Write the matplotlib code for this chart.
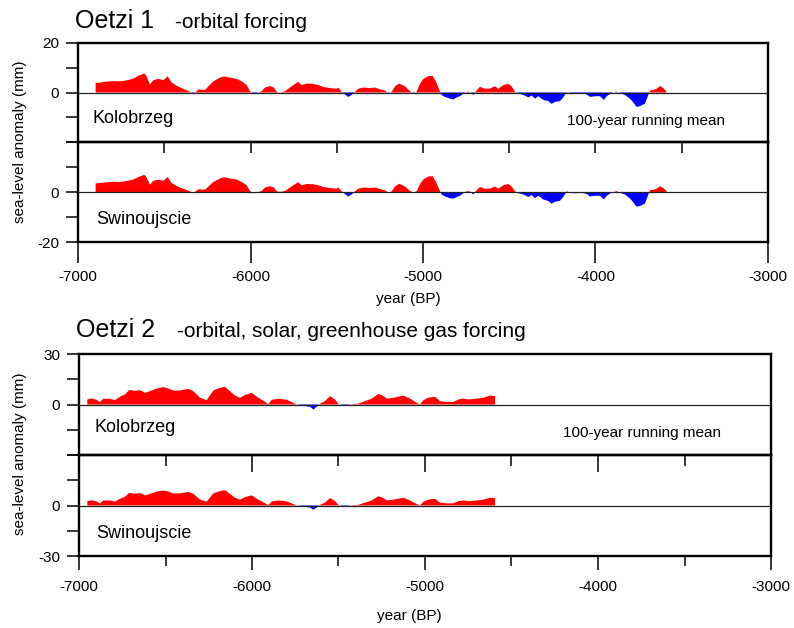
import numpy as np
import matplotlib
matplotlib.use("Agg")
import matplotlib.pyplot as plt

plt.rcParams['font.family'] = 'Liberation Sans'
plt.rcParams['axes.unicode_minus'] = False

# Oetzi 1 run (orbital forcing), 100-year running mean, mm
years_1 = [-6898, -6872, -6834, -6795, -6756, -6718, -6679, -6650, -6615, -6602,
           -6583, -6563, -6534, -6505, -6480, -6457, -6428, -6390, -6351, -6335,
           -6322, -6302, -6264, -6244, -6216, -6177, -6154, -6119, -6080, -6051,
           -6022, -6003, -5984, -5964, -5935, -5916, -5887, -5864, -5848, -5829,
           -5800, -5771, -5752, -5723, -5704, -5675, -5636, -5607, -5578, -5539,
           -5501, -5491, -5472, -5453, -5433, -5414, -5395, -5375, -5346, -5308,
           -5278, -5250, -5221, -5201, -5182, -5162, -5138, -5104, -5075, -5056,
           -5037, -5017, -4998, -4969, -4944, -4925, -4905, -4892, -4872, -4843,
           -4824, -4805, -4786, -4766, -4747, -4728, -4708, -4693, -4670, -4641,
           -4612, -4583, -4563, -4534, -4505, -4486, -4467, -4447, -4418, -4389,
           -4370, -4351, -4332, -4302, -4273, -4254, -4235, -4206, -4187, -4167,
           -4148, -4119, -4080, -4051, -4032, -4003, -3974, -3951, -3935, -3907,
           -3877, -3858, -3829, -3800, -3781, -3762, -3742, -3713, -3694, -3684,
           -3665, -3646, -3626, -3607, -3588]
kolobrzeg_1 = [3.9, 4.0, 4.4, 4.6, 4.5, 4.9, 5.6, 6.8, 7.7, 6.5,
               3.2, 5.0, 5.5, 5.0, 6.6, 4.0, 2.7, 1.5, 0.3, -0.5,
               0.0, 1.2, 1.0, 2.5, 4.5, 6.0, 6.5, 6.0, 5.5, 4.5,
               3.0, 0.5, -0.5, -0.2, 0.5, 2.0, 2.6, 2.0, 0.3, 0.0,
               0.5, 2.0, 3.0, 4.3, 3.0, 3.6, 3.5, 3.0, 2.2, 1.8,
               1.5, 2.0, 0.3, -0.8, -1.8, -1.0, 0.2, 1.5, 2.0, 1.8,
               2.0, 1.3, 0.8, -0.3, 0.2, 2.5, 3.6, 2.5, 0.5, -0.3,
               0.3, 3.5, 5.5, 6.6, 6.7, 4.5, 1.0, -1.0, -1.8, -2.5,
               -2.8, -2.0, -1.5, -0.5, 0.3, 0.2, -1.0, 0.5, 2.3, 1.5,
               1.6, 2.5, 1.5, 3.0, 3.5, 2.5, 0.3, -0.5, -1.0, -2.0,
               -1.2, -2.5, -1.5, -3.0, -3.5, -4.6, -3.8, -3.5, -2.0, 0.3,
               -0.2, -0.5, -0.3, -0.8, -1.8, -1.5, -1.5, -3.0, -1.5, -0.2,
               0.3, -0.3, -1.0, -2.5, -4.0, -5.8, -5.5, -4.5, -1.0, 0.8,
               1.0, 1.5, 2.6, 1.8, 0.3]
swinoujscie_1 = [3.4, 3.6, 3.9, 4.1, 4.0, 4.4, 5.0, 6.0, 6.9, 5.8,
                 2.9, 4.5, 4.9, 4.5, 6.0, 3.6, 2.4, 1.3, 0.3, -0.5,
                 0.0, 1.1, 0.9, 2.2, 4.0, 5.4, 5.9, 5.4, 5.0, 4.0,
                 2.7, 0.4, -0.5, -0.2, 0.4, 1.8, 2.3, 1.8, 0.3, 0.0,
                 0.4, 1.8, 2.7, 3.9, 2.7, 3.2, 3.1, 2.7, 2.0, 1.6,
                 1.3, 1.8, 0.3, -0.8, -1.8, -1.0, 0.2, 1.3, 1.8, 1.6,
                 1.8, 1.2, 0.7, -0.3, 0.2, 2.2, 3.3, 2.2, 0.4, -0.3,
                 0.3, 3.2, 5.0, 6.2, 6.3, 4.1, 0.9, -1.0, -1.8, -2.5,
                 -2.7, -2.0, -1.5, -0.5, 0.3, 0.2, -1.0, 0.4, 2.0, 1.3,
                 1.4, 2.2, 1.3, 2.7, 3.2, 2.2, 0.3, -0.5, -1.0, -2.0,
                 -1.2, -2.5, -1.5, -3.0, -3.6, -4.7, -3.9, -3.5, -2.0, 0.3,
                 -0.2, -0.5, -0.3, -0.8, -1.8, -1.5, -1.5, -3.0, -1.5, -0.2,
                 0.3, -0.3, -1.0, -2.6, -4.1, -5.9, -5.6, -4.6, -1.0, 0.7,
                 0.9, 1.3, 2.3, 1.6, 0.3]

# Oetzi 2 run (orbital, solar, greenhouse gas forcing)
years_2 = [-6952, -6927, -6898, -6879, -6860, -6821, -6792, -6763, -6734, -6709,
           -6676, -6647, -6618, -6590, -6551, -6513, -6484, -6455, -6416, -6368,
           -6339, -6300, -6262, -6223, -6185, -6156, -6127, -6098, -6069, -6040,
           -6001, -5972, -5934, -5905, -5886, -5847, -5799, -5770, -5741, -5703,
           -5664, -5645, -5626, -5606, -5578, -5549, -5520, -5500, -5481, -5452,
           -5423, -5385, -5346, -5308, -5269, -5240, -5221, -5183, -5125, -5087,
           -5048, -5029, -5010, -4981, -4942, -4913, -4875, -4836, -4807, -4778,
           -4749, -4701, -4663, -4624, -4595]
kolobrzeg_2 = [3.0, 3.6, 2.8, 1.4, 3.4, 3.4, 2.6, 4.6, 6.0, 8.7,
               8.1, 8.5, 6.9, 7.9, 9.5, 10.3, 9.5, 8.3, 8.3, 9.3,
               7.9, 4.0, 2.6, 8.3, 9.9, 10.5, 7.9, 5.3, 4.0, 5.7,
               6.9, 4.6, 2.2, 0.2, 2.8, 3.4, 2.8, 1.4, 0.0, -0.8,
               -1.4, -3.0, -1.4, 0.5, 2.0, 5.0, 3.0, 0.3, -0.5, -0.6,
               0.2, 0.5, 2.0, 3.5, 6.3, 5.0, 3.5, 4.0, 5.3, 3.5,
               1.0, 0.0, 2.5, 4.0, 4.6, 2.0, 1.5, 1.5, 3.0, 3.5,
               3.0, 3.5, 4.0, 5.3, 5.0]
swinoujscie_2 = [2.6, 3.1, 2.4, 1.2, 3.0, 3.0, 2.3, 4.0, 5.2, 7.5,
                 7.0, 7.4, 6.0, 6.9, 8.3, 8.9, 8.3, 7.2, 7.2, 8.1,
                 6.9, 3.5, 2.3, 7.2, 8.6, 9.1, 6.9, 4.6, 3.5, 5.0,
                 6.0, 4.0, 1.9, 0.2, 2.4, 3.0, 2.4, 1.2, 0.0, -0.7,
                 -1.2, -2.6, -1.2, 0.4, 1.7, 4.4, 2.6, 0.3, -0.4, -0.5,
                 0.2, 0.4, 1.7, 3.0, 5.5, 4.4, 3.0, 3.5, 4.6, 3.0,
                 0.9, 0.0, 2.2, 3.5, 4.0, 1.7, 1.3, 1.3, 2.6, 3.0,
                 2.6, 3.0, 3.5, 4.6, 4.4]

W, H = 794, 628
fig = plt.figure(figsize=(W / 100, H / 100), dpi=100)


def fx(x):
    return x / W


def fy(y):
    return 1 - y / H


def add_panel(left, top, right, bottom):
    return fig.add_axes([fx(left), fy(bottom), (right - left) / W, (bottom - top) / H])


def fill_series(ax, years, vals):
    x = np.array(years, dtype=float)
    y = np.array(vals, dtype=float)
    ax.fill_between(x, y, 0, where=y >= 0, interpolate=True, color='#ff0000', lw=0)
    ax.fill_between(x, y, 0, where=y <= 0, interpolate=True, color='#0000ff', lw=0)
    ax.axhline(0, color='#222222', lw=0.9, zorder=3)


def block(left, top, mid, bottom, right, years, kolo, swin, ymax, sep_ticks, bot_ticks):
    ax1 = add_panel(left, top, right, mid)
    ax2 = add_panel(left, mid, right, bottom)
    for ax in (ax1, ax2):
        ax.set_xlim(-7000, -3000)
        ax.set_ylim(-ymax, ymax)
        ax.set_yticks([-ymax, -ymax / 2, 0, ymax / 2, ymax])
        for s in ax.spines.values():
            s.set_linewidth(1.7)
        ax.tick_params(axis='y', which='both', left=True, right=False, direction='out',
                       length=8.6, width=1.1, labelsize=11, pad=5)
    ax1.set_yticklabels(['', '', '0', '', str(ymax)])
    ax2.set_yticklabels([str(-ymax), '', '0', '', ''])

    fill_series(ax1, years, kolo)
    fill_series(ax2, years, swin)

    # ticks on the shared edge, pointing down into the lower panel
    ax1.set_zorder(3)
    ax1.patch.set_visible(False)
    ax1.set_xticks(np.arange(-7000, -2999, 1000))
    ax1.set_xticks(np.arange(-6500, -3000, 1000), minor=True)
    ax1.tick_params(axis='x', which='major', top=False, bottom=True, direction='out',
                    length=sep_ticks[0], width=1.1, labelbottom=False)
    ax1.tick_params(axis='x', which='minor', top=False, bottom=True, direction='out',
                    length=sep_ticks[1], width=1.1)

    ax2.set_xticks(np.arange(-7000, -2999, 1000))
    ax2.set_xticklabels([str(v) for v in range(-7000, -2999, 1000)])
    ax2.set_xticks(np.arange(-6500, -3000, 1000), minor=True)
    ax2.tick_params(axis='x', which='major', top=False, bottom=True, direction='out',
                    length=bot_ticks[0], width=1.1, labelsize=11, pad=bot_ticks[2])
    ax2.tick_params(axis='x', which='minor', top=False, bottom=bot_ticks[1] > 0,
                    direction='out', length=bot_ticks[1], width=1.1)
    return ax1, ax2


block(78, 43, 142, 242, 768, years_1, kolobrzeg_1, swinoujscie_1, 20,
      sep_ticks=(8, 8), bot_ticks=(15, 0, 5.5))
block(79, 354, 455, 556, 771, years_2, kolobrzeg_2, swinoujscie_2, 30,
      sep_ticks=(12, 8), bot_ticks=(10, 7, 7.5))

# titles
fig.text(fx(75), fy(28), 'Oetzi 1', fontsize=18, va='baseline')
fig.text(fx(175), fy(28), '-orbital forcing', fontsize=15, va='baseline')
fig.text(fx(76), fy(337), 'Oetzi 2', fontsize=18, va='baseline')
fig.text(fx(177), fy(337), '-orbital, solar, greenhouse gas forcing', fontsize=15, va='baseline')

# station names and smoothing note
fig.text(fx(93), fy(118), 'Kolobrzeg', fontsize=13, va='center')
fig.text(fx(96), fy(220), 'Swinoujscie', fontsize=13, va='center')
fig.text(fx(95), fy(428), 'Kolobrzeg', fontsize=13, va='center')
fig.text(fx(96), fy(533), 'Swinoujscie', fontsize=13, va='center')
fig.text(fx(567), fy(121), '100-year running mean', fontsize=11, va='center')
fig.text(fx(563), fy(433), '100-year running mean', fontsize=11, va='center')

# axis labels
fig.text(fx(20), fy(142), 'sea-level anomaly (mm)', fontsize=11, rotation=90,
         ha='center', va='center')
fig.text(fx(20), fy(454), 'sea-level anomaly (mm)', fontsize=11, rotation=90,
         ha='center', va='center')
fig.text(fx(408), fy(299), 'year (BP)', fontsize=11, ha='center', va='center')
fig.text(fx(409), fy(616), 'year (BP)', fontsize=11, ha='center', va='center')

fig.savefig('out.png', dpi=100)
